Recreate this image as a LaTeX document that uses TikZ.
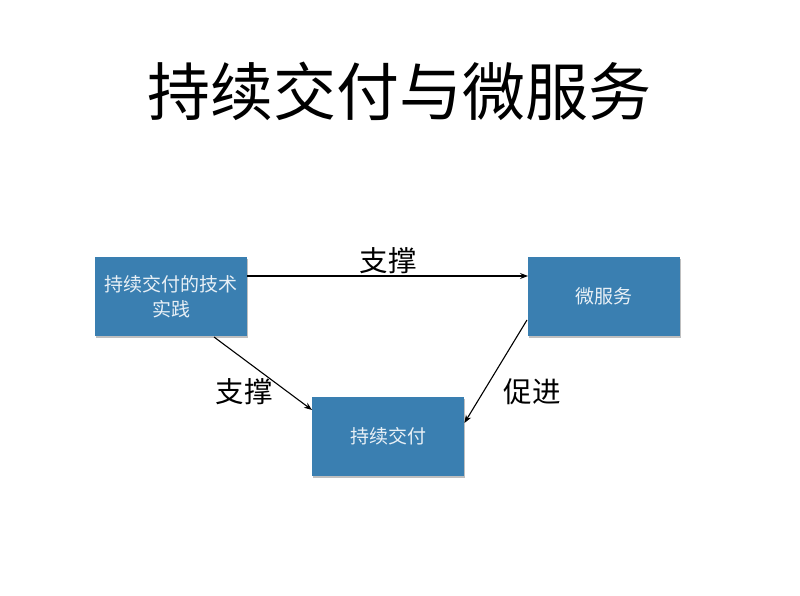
\documentclass[tikz,border=0pt]{standalone}
\usepackage{fontspec}
\newfontfamily\cjk{Noto Sans CJK SC}
\usetikzlibrary{arrows.meta,shadows}
\definecolor{boxblue}{RGB}{58,127,177}
\definecolor{boxtext}{RGB}{232,240,246}
\begin{document}
\begin{tikzpicture}[x=1pt,y=-1pt,
  box/.style={rectangle,fill=boxblue,draw=none,minimum width=152pt,minimum height=79pt,
    inner sep=0pt,anchor=north west,text=boxtext,font=\cjk\fontsize{19}{25}\selectfont,
    align=center,text width=145pt,
    drop shadow={shadow xshift=1pt,shadow yshift=-2pt,fill=black,opacity=0.25}},
  conn/.style={draw=black,line width=1.1pt,-{Stealth[length=8pt,width=6pt]}},
  lbl/.style={font=\cjk\fontsize{28.5}{32}\selectfont,text=black,inner sep=0pt}]
\useasboundingbox (0,0) rectangle (800,596);
\fill[white] (0,0) rectangle (800,596);
\node[font=\cjk\fontsize{63}{72}\selectfont,inner sep=0pt] (title) at (399,91) {持续交付与微服务};
\node[box] (prac) at (95,257) {持续交付的技术\\实践};
\node[box] (micro) at (528,257) {微服务};
\node[box] (cd) at (312,397) {持续交付};
\coordinate (a1s) at (247,276);
\coordinate (a1e) at (528,276);
\draw[conn] (prac.east |- a1s) -- (micro.west |- a1e);
\draw[conn] (214,337) -- (cd.north west |- 0,410);
\draw[conn] (527,320) -- (cd.north east |- 0,423);
\node[lbl] (l1) at (388,261) {支撑};
\node[lbl] (l2) at (244,392) {支撑};
\node[lbl] (l3) at (532,392) {促进};
\end{tikzpicture}
\end{document}
